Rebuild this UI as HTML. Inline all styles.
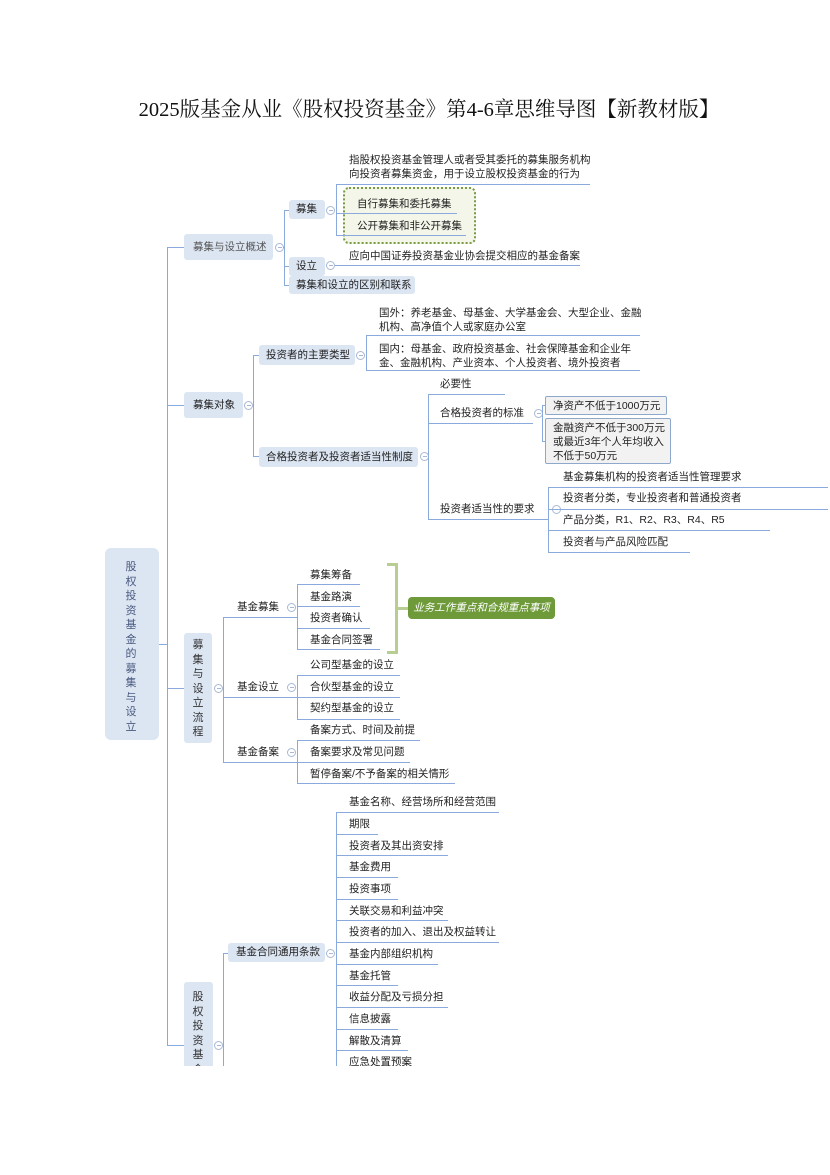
<!DOCTYPE html>
<html><head><meta charset="utf-8"><style>
body{margin:0;background:#fff;}
#p{position:relative;width:830px;height:1175px;overflow:hidden;background:#fff;font-family:"Liberation Sans","Noto Sans CJK SC",sans-serif;color:#222;}
#clip{position:absolute;left:0;top:0;width:830px;height:1066px;overflow:hidden;}
.t{position:absolute;font-size:10.5px;white-space:nowrap;line-height:14px;}
.h{position:absolute;height:1px;background:#8aa9dc;}
.v{position:absolute;width:1px;background:#8aa9dc;}
.b{position:absolute;background:#dce5f2;border-radius:3px;font-size:10.5px;line-height:14px;box-sizing:border-box;white-space:nowrap;}
.c{position:absolute;width:7px;height:7px;border:1px solid #a8b8d4;border-radius:50%;background:#fff;}
.c:after{content:"";position:absolute;left:1.5px;top:3px;width:4px;height:1px;background:#a8b8d4;}
.vt{position:absolute;font-size:11px;line-height:14.5px;text-align:center;width:14px;}
</style></head><body><div id="p">
<div style="position:absolute;left:0;width:858px;top:92px;text-align:center;font-family:'Liberation Serif','Noto Serif CJK SC',serif;font-size:20.5px;font-weight:normal;color:#111;">2025版基金从业《股权投资基金》第4-6章思维导图【新教材版】</div>
<div id="clip">
<!-- root -->
<div class="b" style="left:105px;top:548px;width:54px;height:192px;border-radius:6px;"></div>
<div class="vt" style="left:124px;top:560px;color:#4a5a80;">股<br>权<br>投<br>资<br>基<br>金<br>的<br>募<br>集<br>与<br>设<br>立</div>
<div class="h" style="left:159px;top:644px;width:8px;"></div>
<div class="v" style="left:167px;top:247px;height:798px;"></div>
<div class="h" style="left:167px;top:247px;width:17px;"></div>
<div class="h" style="left:167px;top:405px;width:17px;"></div>
<div class="h" style="left:167px;top:688px;width:17px;"></div>
<div class="h" style="left:167px;top:1045px;width:17px;"></div>

<!-- L1 募集与设立概述 -->
<div class="b" style="left:184px;top:234px;width:89px;height:26px;padding:6px 0 0 9px;color:#555;">募集与设立概述</div>
<div class="c" style="left:275px;top:243px;"></div>
<div class="h" style="left:283px;top:247px;width:2px;"></div>
<div class="v" style="left:284px;top:210px;height:76px;"></div>
<div class="h" style="left:284px;top:210px;width:5px;"></div>
<div class="h" style="left:284px;top:266px;width:5px;"></div>
<div class="h" style="left:284px;top:285px;width:5px;"></div>
<div class="b" style="left:289px;top:200px;width:36px;height:19px;padding:2px 0 0 7px;">募集</div>
<div class="c" style="left:326px;top:206px;"></div>
<div class="v" style="left:336px;top:184px;height:52px;"></div>
<div class="h" style="left:336px;top:184px;width:254px;"></div>
<div class="t" style="left:349px;top:153px;">指股权投资基金管理人或者受其委托的募集服务机构</div>
<div class="t" style="left:349px;top:167px;">向投资者募集资金，用于设立股权投资基金的行为</div>
<div style="position:absolute;left:343px;top:187px;width:129px;height:53px;border:2px dotted #7a9a44;border-radius:6px;background:#f4f6ea;"></div>
<div class="t" style="left:357px;top:197px;">自行募集和委托募集</div>
<div class="h" style="left:336px;top:213px;width:121px;"></div>
<div class="t" style="left:357px;top:219px;">公开募集和非公开募集</div>
<div class="h" style="left:336px;top:235px;width:130px;"></div>
<div class="b" style="left:289px;top:257px;width:36px;height:19px;padding:2px 0 0 7px;">设立</div>
<div class="c" style="left:326px;top:261px;"></div>
<div class="h" style="left:335px;top:265px;width:245px;"></div>
<div class="t" style="left:349px;top:249px;">应向中国证券投资基金业协会提交相应的基金备案</div>
<div class="b" style="left:289px;top:276px;width:126px;height:18px;padding:2px 0 0 7px;">募集和设立的区别和联系</div>

<!-- L1 募集对象 -->
<div class="b" style="left:184px;top:392px;width:59px;height:26px;padding:6px 0 0 9px;">募集对象</div>
<div class="c" style="left:244px;top:401px;"></div>
<div class="v" style="left:253px;top:355px;height:102px;"></div>
<div class="h" style="left:253px;top:355px;width:6px;"></div>
<div class="h" style="left:253px;top:456px;width:6px;"></div>
<div class="b" style="left:259px;top:345px;width:96px;height:20px;padding:3px 0 0 7px;">投资者的主要类型</div>
<div class="c" style="left:356px;top:351px;"></div>
<div class="v" style="left:366px;top:335px;height:36px;"></div>
<div class="h" style="left:366px;top:335px;width:274px;"></div>
<div class="h" style="left:366px;top:370px;width:274px;"></div>
<div class="t" style="left:379px;top:306px;">国外：养老基金、母基金、大学基金会、大型企业、金融</div>
<div class="t" style="left:379px;top:320px;">机构、高净值个人或家庭办公室</div>
<div class="t" style="left:379px;top:342px;">国内：母基金、政府投资基金、社会保障基金和企业年</div>
<div class="t" style="left:379px;top:356px;">金、金融机构、产业资本、个人投资者、境外投资者</div>

<div class="b" style="left:259px;top:447px;width:159px;height:20px;padding:3px 0 0 7px;">合格投资者及投资者适当性制度</div>
<div class="c" style="left:420px;top:452px;"></div>
<div class="v" style="left:428px;top:394px;height:126px;"></div>
<div class="t" style="left:440px;top:377px;">必要性</div>
<div class="h" style="left:428px;top:394px;width:77px;"></div>
<div class="t" style="left:440px;top:406px;">合格投资者的标准</div>
<div class="h" style="left:428px;top:423px;width:105px;"></div>
<div class="c" style="left:534px;top:409px;"></div>
<div class="v" style="left:542px;top:405px;height:37px;"></div>
<div class="h" style="left:542px;top:405px;width:3px;"></div>
<div class="h" style="left:542px;top:441px;width:3px;"></div>
<div style="position:absolute;left:545px;top:396px;width:122px;height:19px;box-sizing:border-box;border:1px solid #8ea8cc;border-radius:2px;background:#f2f2f2;font-size:10.5px;line-height:14px;padding:2px 0 0 7px;">净资产不低于1000万元</div>
<div style="position:absolute;left:545px;top:418px;width:126px;height:46px;box-sizing:border-box;border:1px solid #8ea8cc;border-radius:2px;background:#f2f2f2;font-size:10.5px;line-height:14px;padding:2px 0 0 7px;">金融资产不低于300万元<br>或最近3年个人年均收入<br>不低于50万元</div>
<div class="t" style="left:440px;top:502px;">投资者适当性的要求</div>
<div class="h" style="left:428px;top:519px;width:120px;"></div>
<div class="c" style="left:552px;top:505px;"></div>
<div class="v" style="left:548px;top:487px;height:66px;"></div>
<div class="t" style="left:563px;top:470px;">基金募集机构的投资者适当性管理要求</div>
<div class="h" style="left:548px;top:487px;width:280px;"></div>
<div class="t" style="left:563px;top:491px;">投资者分类，专业投资者和普通投资者</div>
<div class="h" style="left:548px;top:509px;width:280px;"></div>
<div class="t" style="left:563px;top:513px;">产品分类，R1、R2、R3、R4、R5</div>
<div class="h" style="left:548px;top:530px;width:222px;"></div>
<div class="t" style="left:563px;top:535px;">投资者与产品风险匹配</div>
<div class="h" style="left:548px;top:552px;width:142px;"></div>

<!-- L1 募集与设立流程 -->
<div class="b" style="left:184px;top:633px;width:28px;height:110px;"></div>
<div class="vt" style="left:191px;top:638px;color:#333;">募<br>集<br>与<br>设<br>立<br>流<br>程</div>
<div class="c" style="left:214px;top:684px;"></div>
<div class="v" style="left:223px;top:617px;height:146px;"></div>
<div class="t" style="left:237px;top:600px;">基金募集</div>
<div class="h" style="left:223px;top:617px;width:74px;"></div>
<div class="c" style="left:287px;top:603px;"></div>
<div class="v" style="left:297px;top:584px;height:66px;"></div>
<div class="t" style="left:310px;top:568px;">募集筹备</div><div class="h" style="left:297px;top:584px;width:63px;"></div>
<div class="t" style="left:310px;top:590px;">基金路演</div><div class="h" style="left:297px;top:606px;width:63px;"></div>
<div class="t" style="left:310px;top:611px;">投资者确认</div><div class="h" style="left:297px;top:628px;width:73px;"></div>
<div class="t" style="left:310px;top:633px;">基金合同签署</div><div class="h" style="left:297px;top:649px;width:83px;"></div>
<div style="position:absolute;left:387px;top:563px;width:8px;height:85px;border:3px solid #b7cd92;border-left:none;"></div>
<div class="h" style="left:398px;top:607px;width:10px;height:3px;background:#b7cd92;"></div>
<div style="position:absolute;left:408px;top:597px;width:147px;height:22px;background:#6e9a3a;border-radius:4px;color:#fff;font-style:italic;font-size:10.5px;line-height:22px;text-align:center;">业务工作重点和合规重点事项</div>

<div class="t" style="left:237px;top:680px;">基金设立</div>
<div class="h" style="left:223px;top:697px;width:74px;"></div>
<div class="c" style="left:287px;top:683px;"></div>
<div class="v" style="left:297px;top:675px;height:45px;"></div>
<div class="t" style="left:310px;top:658px;">公司型基金的设立</div><div class="h" style="left:297px;top:675px;width:103px;"></div>
<div class="t" style="left:310px;top:680px;">合伙型基金的设立</div><div class="h" style="left:297px;top:697px;width:103px;"></div>
<div class="t" style="left:310px;top:701px;">契约型基金的设立</div><div class="h" style="left:297px;top:719px;width:103px;"></div>

<div class="t" style="left:237px;top:745px;">基金备案</div>
<div class="h" style="left:223px;top:762px;width:74px;"></div>
<div class="c" style="left:287px;top:748px;"></div>
<div class="v" style="left:297px;top:740px;height:44px;"></div>
<div class="t" style="left:310px;top:723px;">备案方式、时间及前提</div><div class="h" style="left:297px;top:740px;width:123px;"></div>
<div class="t" style="left:310px;top:745px;">备案要求及常见问题</div><div class="h" style="left:297px;top:762px;width:113px;"></div>
<div class="t" style="left:310px;top:767px;">暂停备案/不予备案的相关情形</div><div class="h" style="left:297px;top:783px;width:158px;"></div>

<!-- L1 last -->
<div class="b" style="left:184px;top:982px;width:29px;height:120px;"></div>
<div class="vt" style="left:191px;top:990px;color:#333;">股<br>权<br>投<br>资<br>基<br>金</div>
<div class="c" style="left:214px;top:1041px;"></div>
<div class="v" style="left:223px;top:953px;height:120px;"></div>
<div class="h" style="left:223px;top:953px;width:5px;"></div>
<div class="b" style="left:228px;top:943px;width:97px;height:19px;padding:2px 0 0 8px;">基金合同通用条款</div>
<div class="c" style="left:326px;top:949px;"></div>
<div class="v" style="left:336px;top:812px;height:260px;"></div>
<div class="t" style="left:349px;top:795px;">基金名称、经营场所和经营范围</div><div class="h" style="left:336px;top:812px;width:163px;"></div>
<div class="t" style="left:349px;top:817px;">期限</div><div class="h" style="left:336px;top:834px;width:42px;"></div>
<div class="t" style="left:349px;top:839px;">投资者及其出资安排</div><div class="h" style="left:336px;top:855px;width:112px;"></div>
<div class="t" style="left:349px;top:860px;">基金费用</div><div class="h" style="left:336px;top:877px;width:62px;"></div>
<div class="t" style="left:349px;top:882px;">投资事项</div><div class="h" style="left:336px;top:899px;width:62px;"></div>
<div class="t" style="left:349px;top:904px;">关联交易和利益冲突</div><div class="h" style="left:336px;top:920px;width:112px;"></div>
<div class="t" style="left:349px;top:925px;">投资者的加入、退出及权益转让</div><div class="h" style="left:336px;top:942px;width:163px;"></div>
<div class="t" style="left:349px;top:947px;">基金内部组织机构</div><div class="h" style="left:336px;top:964px;width:102px;"></div>
<div class="t" style="left:349px;top:969px;">基金托管</div><div class="h" style="left:336px;top:985px;width:62px;"></div>
<div class="t" style="left:349px;top:990px;">收益分配及亏损分担</div><div class="h" style="left:336px;top:1007px;width:112px;"></div>
<div class="t" style="left:349px;top:1012px;">信息披露</div><div class="h" style="left:336px;top:1029px;width:62px;"></div>
<div class="t" style="left:349px;top:1034px;">解散及清算</div><div class="h" style="left:336px;top:1050px;width:72px;"></div>
<div class="t" style="left:349px;top:1055px;">应急处置预案</div>
</div>
</div></body></html>
